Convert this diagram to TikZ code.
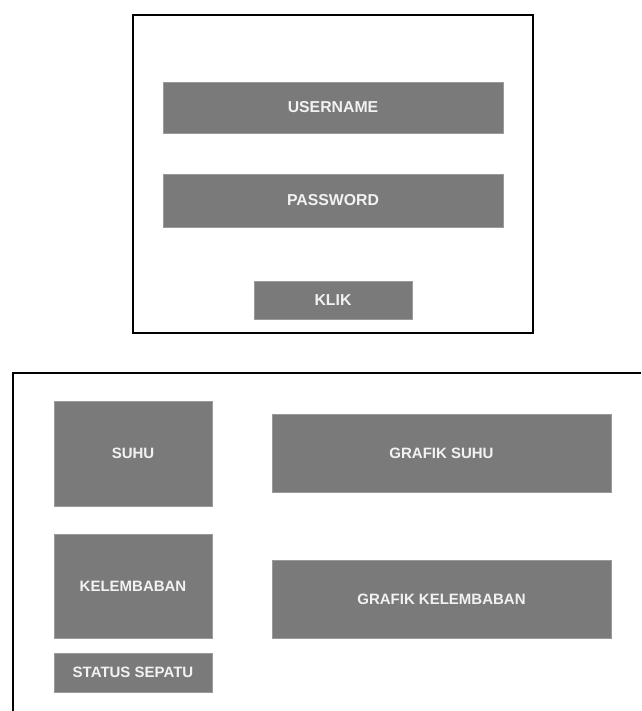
\documentclass[tikz,border=0pt]{standalone}
\usepackage{fontspec}
\setmainfont{Liberation Sans}
\definecolor{boxgray}{HTML}{7A7A7A}
\definecolor{boxedge}{HTML}{9A9A9A}
\definecolor{txt}{HTML}{F2F2F2}
\begin{document}
\begin{tikzpicture}[x=1pt,y=-1pt,
  frame/.style={draw=black,line width=1.3pt},
  gbox/.style={fill=boxgray,draw=boxedge,line width=0.8pt},
  gtxt/.style={text=txt,font=\fontsize{15.8}{17}\selectfont\bfseries,inner sep=0pt},
  gtxtb/.style={text=txt,font=\fontsize{15}{17}\selectfont\bfseries,inner sep=0pt}]
\useasboundingbox (0,0) rectangle (641,711);
% top frame
\draw[frame] (133,15) rectangle (533,333);
\draw[gbox] (163,82) rectangle (503,133);
\node[gtxt] (user) at (333,107.5) {USERNAME};
\draw[gbox] (163,174) rectangle (503,227);
\node[gtxt] (pass) at (333,200.5) {PASSWORD};
\draw[gbox] (254,281) rectangle (412,319);
\node[gtxt] (klik) at (333,300) {KLIK};
% bottom frame
\draw[frame] (641,373) -- (13,373) -- (13,711);
\draw[gbox] (54,401) rectangle (212,506);
\node[gtxtb] (suhu) at (133,453) {SUHU};
\draw[gbox] (272,414) rectangle (611,492);
\node[gtxtb] (gsuhu) at (441.5,453) {GRAFIK SUHU};
\draw[gbox] (54,534) rectangle (212,638);
\node[gtxtb] (kel) at (133,586) {KELEMBABAN};
\draw[gbox] (272,560) rectangle (611,638);
\node[gtxtb] (gkel) at (441.5,599) {GRAFIK KELEMBABAN};
\draw[gbox] (54,653) rectangle (212,692);
\node[gtxtb] (status) at (133,672.5) {STATUS SEPATU};
\end{tikzpicture}
\end{document}
